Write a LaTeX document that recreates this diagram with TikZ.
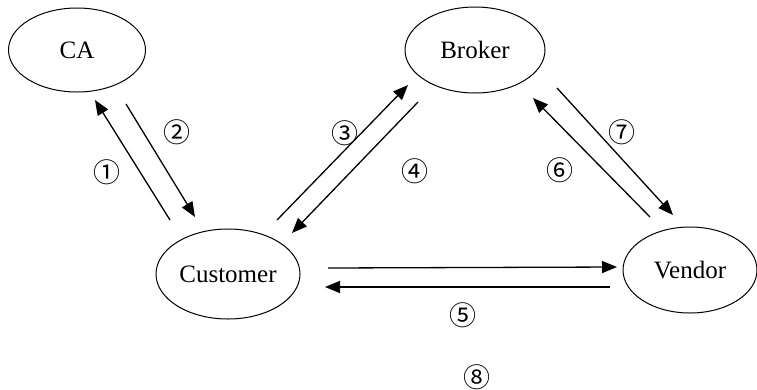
\documentclass[tikz,border=0pt]{standalone}
\usepackage{fontspec}
\setmainfont{Liberation Serif}
\newfontfamily\circfont{Noto Sans CJK SC}
\usetikzlibrary{shapes.geometric,arrows.meta}
\tikzset{
  party/.style={ellipse,draw,line width=1pt,inner sep=0pt,font=\fontsize{25}{27}\selectfont},
  msg/.style={line width=1.3pt,-{Triangle[length=15pt,width=12pt]}},
  num/.style={font=\circfont\fontsize{27}{29}\selectfont,inner sep=0pt}
}
\begin{document}
\begin{tikzpicture}[x=1pt,y=-1pt]
\useasboundingbox (0,0) rectangle (757,389);
\node[party,minimum width=137pt,minimum height=84pt] (ca) at (77,50) {CA};
\node[party,minimum width=140pt,minimum height=86pt] (broker) at (475,50) {Broker};
\node[party,minimum width=144pt,minimum height=90pt] (customer) at (228,274) {Customer};
\node[party,minimum width=134pt,minimum height=86pt] (vendor) at (690,270) {Vendor};
% endpoints
\coordinate (c1s) at (170,220); \coordinate (c1e) at (95,100);
\coordinate (c2s) at (126,104); \coordinate (c2e) at (195,217);
\coordinate (c3s) at (277,220); \coordinate (c3e) at (408,85);
\coordinate (c4s) at (418,102); \coordinate (c4e) at (292,233);
\coordinate (c6s) at (650,217); \coordinate (c6e) at (533,98);
\coordinate (c7s) at (557,88); \coordinate (c7e) at (673,215);
\coordinate (c5as) at (328,268); \coordinate (c5ae) at (617,267);
\coordinate (c5bs) at (610,287); \coordinate (c5be) at (325,287);
\draw[msg] (c1s) -- (c1e);
\draw[msg] (c2s) -- (c2e);
\draw[msg] (c3s) -- (c3e);
\draw[msg] (c4s) -- (c4e);
\draw[msg] (c6s) -- (c6e);
\draw[msg] (c7s) -- (c7e);
\draw[msg] (c5as) -- (c5ae);
\draw[msg] (c5bs) -- (c5be);
\node[num] (n1) at (107,172) {①};
\node[num] (n2) at (177,132) {②};
\node[num] (n3) at (345,133) {③};
\node[num] (n4) at (415,171) {④};
\node[num] (n5) at (463,315) {⑤};
\node[num] (n6) at (560,170) {⑥};
\node[num] (n7) at (622,132) {⑦};
\node[num] (n8) at (477,377) {⑧};
\end{tikzpicture}
\end{document}
